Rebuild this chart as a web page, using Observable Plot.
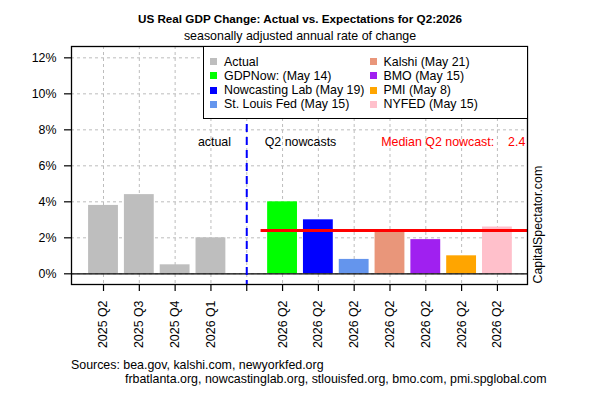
<!DOCTYPE html>
<html><head><meta charset="utf-8">
<script src="https://cdn.jsdelivr.net/npm/d3@7"></script>
<script src="https://cdn.jsdelivr.net/npm/@observablehq/plot@0.6"></script>
<style>
html,body{margin:0;padding:0;background:#fff;}
#wrap{position:relative;width:600px;height:400px;font-family:"Liberation Sans",Arial,sans-serif;color:#000;overflow:hidden;}
#wrap svg{position:absolute;left:0;top:0;}
.t{position:absolute;white-space:nowrap;font-size:12.4px;line-height:14px;}
#legend{position:absolute;left:203px;top:46px;width:325px;height:73px;box-sizing:border-box;border:1px solid #000;background:#fff;}
.sq{position:absolute;width:7px;height:7px;}
</style></head><body><div id="wrap"></div>
<script>
// ---- data ----
const titleText = "US Real GDP Change: Actual vs. Expectations for Q2:2026";
const subtitleText = "seasonally adjusted annual rate of change";
const sourceLines = ["Sources: bea.gov, kalshi.com, newyorkfed.org",
  "frbatlanta.org, nowcastinglab.org, stlouisfed.org, bmo.com, pmi.spglobal.com"];
const creditText = "CapitalSpectator.com";

const actualQuarters = ["2025 Q2", "2025 Q3", "2025 Q4", "2026 Q1"];
const actualValues = [3.8, 4.4, 0.5, 2.0];
const actualLabel = "Actual";
const actualColor = "#bebebe";

const nowcastQuarter = "2026 Q2";
const nowcastSources = ["GDPNow: (May 14)", "Nowcasting Lab (May 19)", "St. Louis Fed (May 15)",
  "Kalshi (May 21)", "BMO (May 15)", "PMI (May 8)", "NYFED (May 15)"];
const nowcastValues = [4.0, 3.0, 0.8, 2.4, 1.9, 1.0, 2.6];
const nowcastColors = ["#00ff00", "#0000ff", "#6495ed", "#e9967a", "#a020f0", "#ffa500", "#ffc0cb"];

const yTicks = [0, 2, 4, 6, 8, 10, 12];

// ---- derived table ----
const dividerIndex = actualQuarters.length;
const tickLabels = [...actualQuarters, "", ...nowcastSources.map(() => nowcastQuarter)];
const bars = [
  ...actualValues.map((v, i) => ({i, value: v, color: actualColor})),
  ...nowcastValues.map((v, j) => ({i: dividerIndex + 1 + j, value: v, color: nowcastColors[j]}))
];
const median = d3.median(nowcastValues);
const half = 0.5 / 1.2;
const xDomain = [-0.894, tickLabels.length - 1 + 0.84];
const yDomain = [-0.594, 12.63];
const font = "Liberation Sans, Arial, sans-serif";
const fs = 12.4;

const chart = Plot.plot({
  width: 600, height: 400,
  marginLeft: 71, marginRight: 73, marginTop: 46, marginBottom: 116,
  style: {fontFamily: font, fontSize: fs + "px", background: "white", color: "black"},
  x: {type: "linear", domain: xDomain, axis: null},
  y: {domain: yDomain, axis: null},
  color: {type: "identity"},
  marks: [
    Plot.gridX({ticks: d3.range(tickLabels.length), stroke: "#bdbdbd", strokeOpacity: 1, strokeDasharray: "3,3"}),
    Plot.gridY({ticks: yTicks, stroke: "#bdbdbd", strokeOpacity: 1, strokeDasharray: "3,3"}),
    Plot.rectY(bars, {x1: d => d.i - half, x2: d => d.i + half, y1: 0, y2: "value", fill: "color"}),
    Plot.ruleY([0], {stroke: "black", strokeWidth: 1.3}),
    Plot.ruleX([dividerIndex], {stroke: "#0000ff", strokeWidth: 2, strokeDasharray: "8,5"}),
    Plot.ruleY([median], {x1: dividerIndex + 0.4, x2: xDomain[1], stroke: "#ff0000", strokeWidth: 3}),
    Plot.text(["actual"], {x: dividerIndex - 0.44, y: 7.3, textAnchor: "end", fontSize: fs}),
    Plot.text(["Q2 nowcasts"], {x: dividerIndex + 0.5, y: 7.3, textAnchor: "start", fontSize: fs}),
    Plot.text(["Median Q2 nowcast:"], {x: tickLabels.length - 1 - 0.09, y: 7.3, textAnchor: "end", fill: "#ff0000", fontSize: fs}),
    Plot.text([median], {x: tickLabels.length - 1 + 0.78, y: 7.3, text: d => d.toFixed(1), textAnchor: "end", fill: "#ff0000", fontSize: fs}),
    Plot.text([creditText], {frameAnchor: "bottom-right", rotate: -90, textAnchor: "start", lineAnchor: "middle", dx: 11, dy: -1, fontSize: fs}),
    Plot.frame({stroke: "black", strokeWidth: 1.3}),
    Plot.axisY({ticks: yTicks, tickFormat: d => d + "%", label: null, tickSize: 7, tickPadding: 8, fontSize: fs, stroke: "black", strokeWidth: 1.2}),
    Plot.axisX({ticks: d3.range(tickLabels.length), tickFormat: i => tickLabels[i], label: null, tickRotate: -90, tickSize: 7, tickPadding: 9, fontSize: fs, stroke: "black", strokeWidth: 1.2})
  ]
});

const wrap = document.getElementById("wrap");
wrap.appendChild(chart);

function addText(txt, left, top, extra) {
  const d = document.createElement("div");
  d.className = "t";
  d.textContent = txt;
  d.style.left = left + "px";
  d.style.top = top + "px";
  if (extra) Object.assign(d.style, extra);
  wrap.appendChild(d);
  return d;
}
addText(titleText, 0, 12, {width: "600px", textAlign: "center", fontWeight: "bold", fontSize: "11.7px"});
addText(subtitleText, 0, 29, {width: "600px", textAlign: "center"});
addText(sourceLines[0], 71, 358);
addText(sourceLines[1], 125, 371.5);

// legend
const legend = document.createElement("div");
legend.id = "legend";
wrap.appendChild(legend);
const legendLabels = [actualLabel, ...nowcastSources];
const legendColors = [actualColor, ...nowcastColors];
const perCol = Math.ceil(legendLabels.length / 2);
legendLabels.forEach((lab, k) => {
  const col = Math.floor(k / perCol), row = k % perCol;
  const cy = 61.7 + row * 14.2 - 46;
  const sqx = (col === 0 ? 209.5 : 369.5) - 203;
  const tx = (col === 0 ? 224 : 383.5) - 203;
  const s = document.createElement("div");
  s.className = "sq";
  s.style.left = (sqx - 1) + "px";
  s.style.top = (cy - 3.5 - 1) + "px";
  s.style.background = legendColors[k];
  legend.appendChild(s);
  const t = document.createElement("div");
  t.className = "t";
  t.textContent = lab;
  t.style.left = (tx - 1) + "px";
  t.style.top = (cy - 7 - 1) + "px";
  legend.appendChild(t);
});
</script>
</body></html>
